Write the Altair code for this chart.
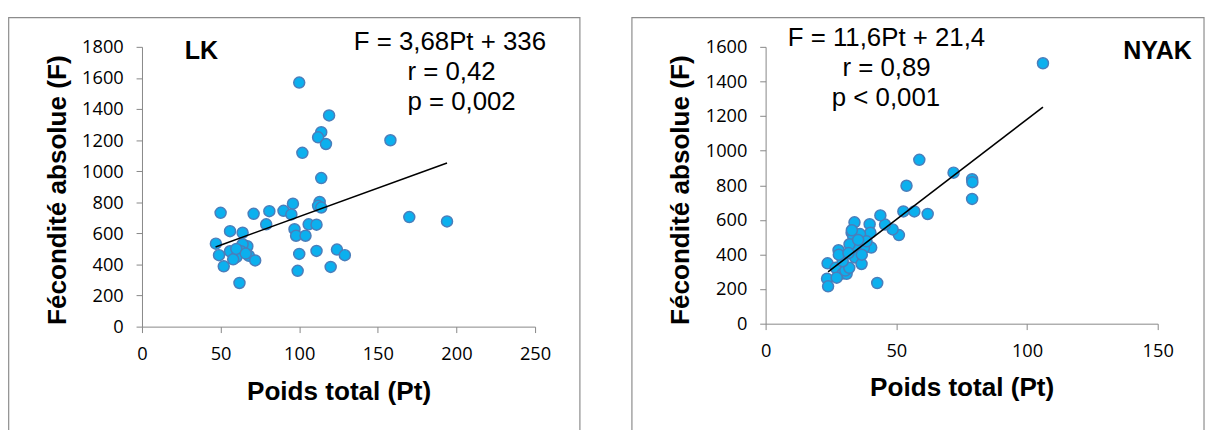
import altair as alt
import pandas as pd

# ---------------- data ----------------
lk_pt = [100, 119, 114, 112, 117, 102, 158, 114, 96, 113, 112, 114, 90, 81, 50, 71, 95,
         79, 106, 111, 170, 194, 97, 98, 104, 56, 64, 47, 67, 64, 56, 63, 49, 60, 68, 72,
         58, 52, 100, 111, 124, 129, 120, 99, 62, 60, 66]
lk_f = [1570, 1359, 1251, 1218, 1175, 1118, 1199, 956, 791, 802, 777, 766, 745, 743, 732,
        726, 722, 658, 658, 656, 705, 677, 627, 585, 585, 614, 604, 534, 517, 530, 485, 485,
        460, 447, 456, 426, 433, 388, 468, 487, 496, 460, 384, 359, 281, 500, 470]

nyak_pt = [106.1, 58.8, 71.9, 79.0, 79.1, 79.0, 53.9, 52.7, 56.9, 62.0, 51.0, 48.6, 45.7,
           43.9, 39.8, 40.1, 34.0, 32.9, 33.5, 36.1, 40.4, 37.6, 34.3, 32.1, 27.9, 34.2,
           36.7, 23.7, 26.8, 29.5, 31.0, 23.5, 27.2, 23.9, 42.7, 30.5, 32.0, 29.5, 28.0,
           31.7, 36.8, 38.6, 35.4, 33.0]
nyak_f = [1505, 947, 873, 835, 818, 721, 797, 649, 649, 634, 512, 545, 573, 626, 575, 526,
          586, 526, 505, 518, 440, 437, 446, 459, 425, 383, 345, 349, 323, 290, 288, 260,
          266, 216, 235, 307, 323, 361, 399, 408, 399, 476, 484, 540]

lk_fit_pt = [46.8, 194.0]
lk_fit_f = [513, 1053]
nyak_fit_pt = [23.9, 106.1]
nyak_fit_f = [300, 1252]

lk_eq = ["F = 3,68Pt + 336", "r = 0,42", "p = 0,002"]
nyak_eq = ["F = 11,6Pt + 21,4", "r = 0,89", "p < 0,001"]
lk_name = "LK"
nyak_name = "NYAK"

x_title = "Poids total (Pt)"
y_title = "Fécondité absolue (F)"

lk_xticks = [0, 50, 100, 150, 200, 250]
lk_yticks = [0, 200, 400, 600, 800, 1000, 1200, 1400, 1600, 1800]
nyak_xticks = [0, 50, 100, 150]
nyak_yticks = [0, 200, 400, 600, 800, 1000, 1200, 1400, 1600]

# ---------------- styling ----------------
AXIS_GRAY = "#868686"
FRAME_GRAY = "#8c8c8c"
FILL = "#0BB0EE"
EDGE = "#4A7EBB"
TITLE_FONT = "Liberation Sans"
LABEL_FONT = "Open Sans"


def text_layer(s, x, y, size, bold=False, align="left"):
    return alt.Chart(pd.DataFrame({"t": [s]})).mark_text(
        font=TITLE_FONT, fontSize=size, fontWeight="bold" if bold else "normal",
        align=align, baseline="alphabetic", color="black"
    ).encode(text="t:N", x=alt.value(x), y=alt.value(y))


def panel(pt, f, fit_pt, fit_f, xticks, yticks, w, h, name, name_xy, eq, eq_pos,
          eq_align, frame, xtitle_y):
    df = pd.DataFrame({"Pt": pt, "F": f})
    fit = pd.DataFrame({"Pt": fit_pt, "F": fit_f})
    xs = alt.Scale(domain=[xticks[0], xticks[-1]], nice=False)
    ys = alt.Scale(domain=[yticks[0], yticks[-1]], nice=False)
    xaxis = alt.Axis(values=xticks, format="d", grid=False, domainColor=AXIS_GRAY,
                     tickColor=AXIS_GRAY, tickSize=6, labelFont=LABEL_FONT,
                     labelFontSize=18.5, labelColor="black", labelPadding=12,
                     labelFlush=False, labelOverlap=False,
                     title=x_title, titleFont=TITLE_FONT, titleFontSize=26.5,
                     titleFontWeight="bold", titleColor="black", titleY=xtitle_y,
                     titleBaseline="alphabetic")
    yaxis = alt.Axis(values=yticks, format="d", grid=False, domainColor=AXIS_GRAY,
                     tickColor=AXIS_GRAY, tickSize=6, labelFont=LABEL_FONT,
                     labelFontSize=18.5, labelColor="black", labelPadding=13,
                     labelFlush=False, labelOverlap=False,
                     title=y_title, titleFont=TITLE_FONT, titleFontSize=26.5,
                     titleFontWeight="bold", titleColor="black", titleAngle=270,
                     titleX=-78, titleY=145, titleAlign="center", titleBaseline="alphabetic")

    frame_layer = alt.Chart(pd.DataFrame({"k": [0]})).mark_rect(
        fillOpacity=0, stroke=FRAME_GRAY, strokeWidth=1.2
    ).encode(x=alt.value(frame[0]), x2=alt.value(frame[1]),
             y=alt.value(frame[2]), y2=alt.value(frame[3]))

    pts = alt.Chart(df).mark_point(
        shape="circle", filled=True, fill=FILL, stroke=EDGE, strokeWidth=1.5,
        size=125, opacity=1
    ).encode(x=alt.X("Pt:Q", scale=xs, axis=xaxis), y=alt.Y("F:Q", scale=ys, axis=yaxis))

    line = alt.Chart(fit).mark_line(color="black", strokeWidth=1.6).encode(
        x=alt.X("Pt:Q", scale=xs, axis=xaxis), y=alt.Y("F:Q", scale=ys, axis=yaxis))

    layers = [frame_layer, pts, line,
              text_layer(name, name_xy[0], name_xy[1], 25.4, bold=True)]
    for s, (x, y) in zip(eq, eq_pos):
        layers.append(text_layer(s, x, y, 26.2, align=eq_align))
    return alt.layer(*layers).properties(width=w, height=h)


left = panel(lk_pt, lk_f, lk_fit_pt, lk_fit_f, lk_xticks, lk_yticks, 399, 284,
             lk_name, (43.4, 12.3), lk_eq, [(215, 3.3), (269.4, 34), (269.4, 64)], "left",
             (-135.3, 444.5, -29.7, 420), 73.7)
right = panel(nyak_pt, nyak_f, nyak_fit_pt, nyak_fit_f, nyak_xticks, nyak_yticks, 398, 281,
              nyak_name, (363, 12.3), nyak_eq, [(122.7, -1), (122.7, 30), (122.2, 60)],
              "center", (-135.7, 445, -29.7, 420), 72.7)

chart = alt.hconcat(left, right, spacing=234, bounds="flush").properties(
    padding={"left": 0, "top": 5, "right": 0, "bottom": 0}
).configure_view(strokeWidth=0)

chart.save("out.html", embed_options={"renderer": "svg", "actions": False})
